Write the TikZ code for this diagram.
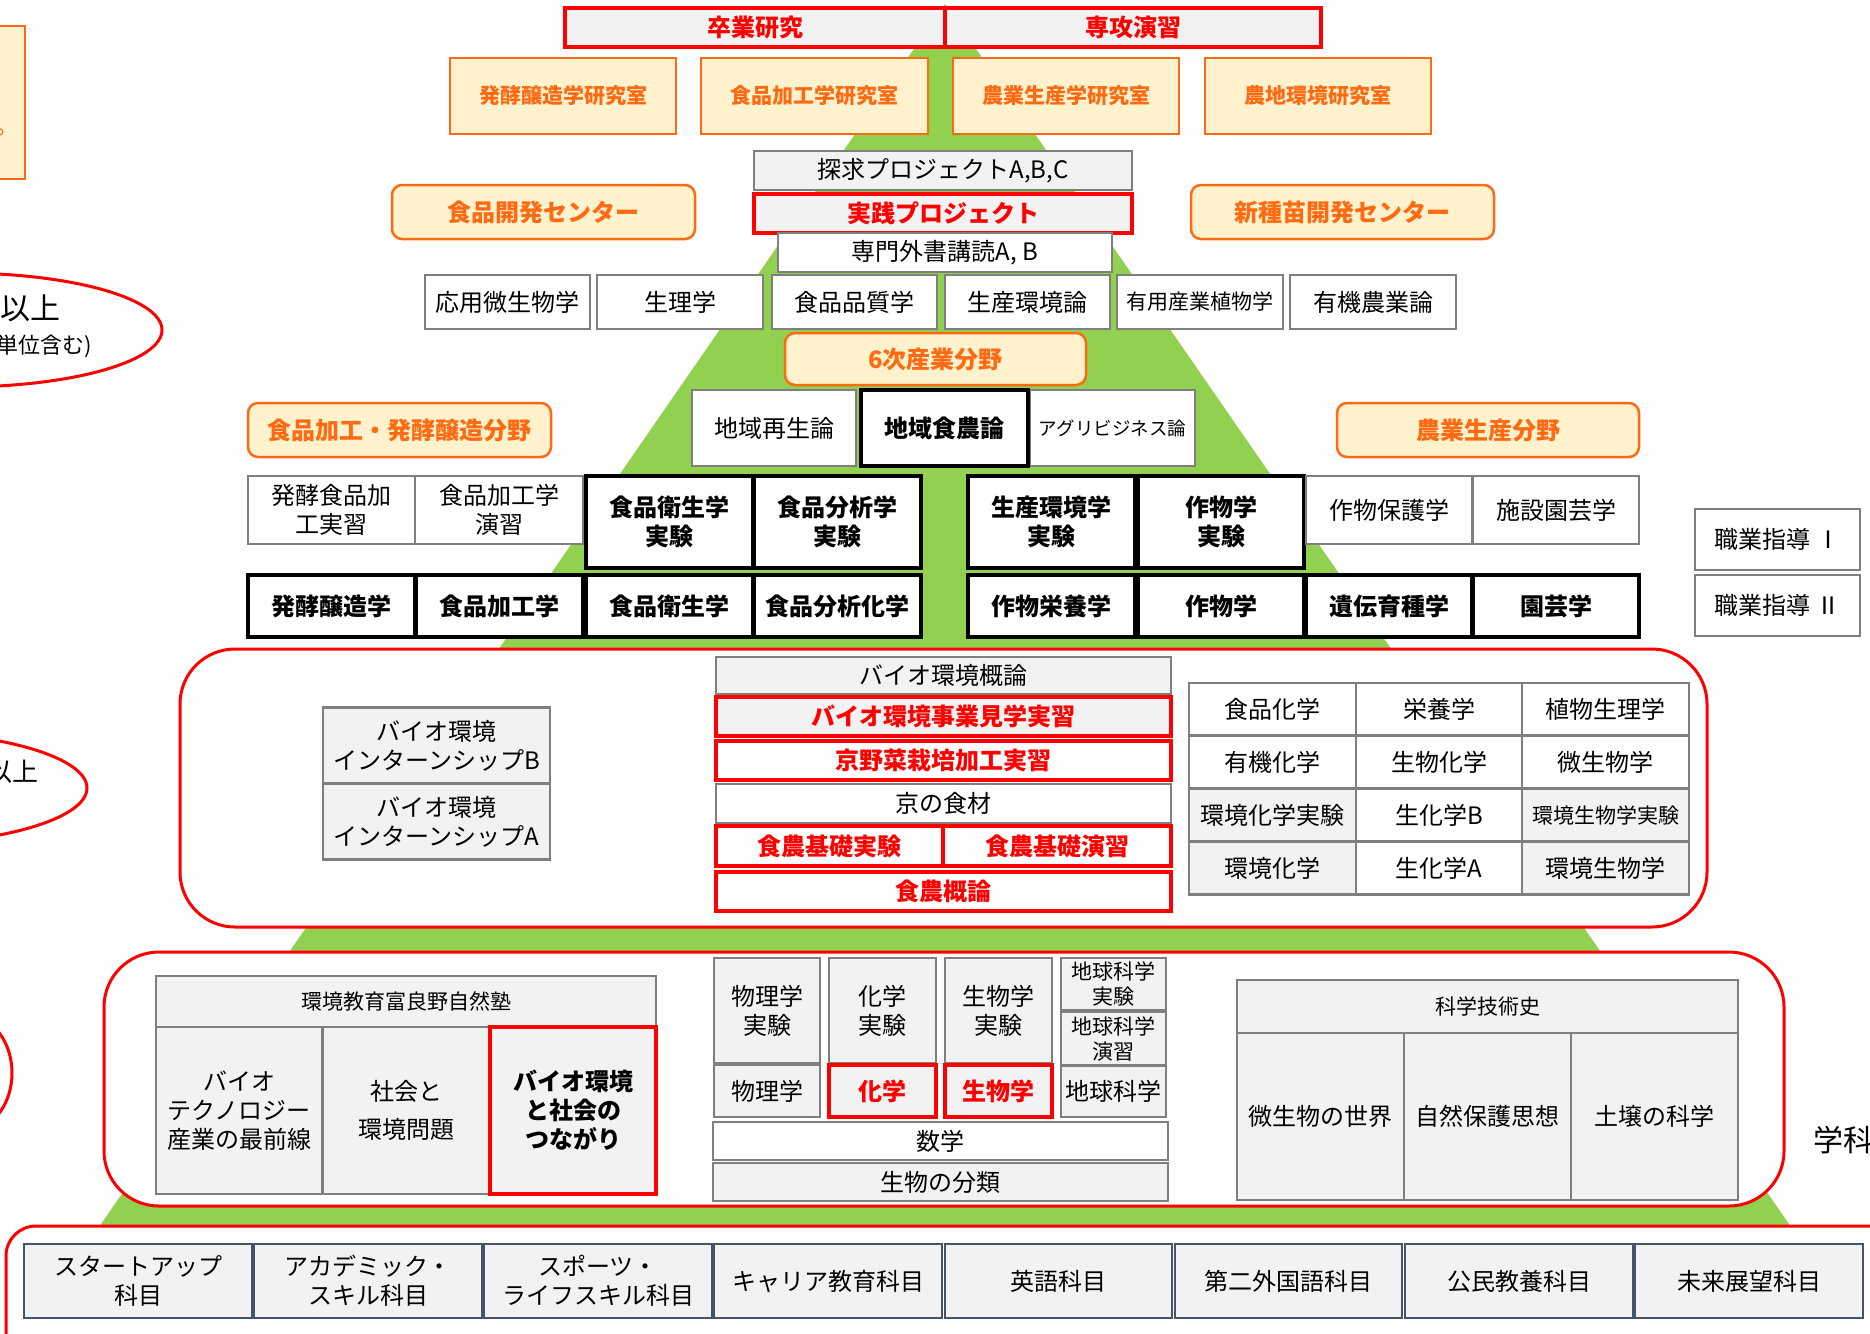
\documentclass[tikz,border=0pt]{standalone}
\usepackage{fontspec}
\setmainfont{Noto Sans CJK JP}
\definecolor{leaf}{HTML}{92D050}
\definecolor{boxgray}{HTML}{7F7F7F}
\definecolor{paper}{HTML}{F2F2F2}
\definecolor{cream}{HTML}{FFF2CC}
\definecolor{rust}{HTML}{FF6A13}
\definecolor{slate}{HTML}{44546A}
\definecolor{hotred}{HTML}{FF0000}

\begin{document}
\begin{tikzpicture}[x=1pt, y=-1pt,
    every node/.style={inner sep=1pt, outer sep=0pt, align=center,
                       font=\fontsize{24}{29}\selectfont},
    sz/.style 2 args={minimum width=#1pt, minimum height=#2pt},
    txsmall/.style={font=\fontsize{21}{25}\selectfont},
    txtiny/.style={font=\fontsize{18.5}{22}\selectfont},
    heavy/.style={font=\fontsize{24}{29}\selectfont\bfseries},
    wbox/.style={draw=boxgray, line width=2.5pt, fill=white},
    gbox/.style={wbox, fill=paper},
    kbox/.style={draw=black, line width=4.5pt, fill=white, heavy},
    rbox/.style={draw=hotred, line width=4pt, fill=white, text=hotred, heavy},
    lab/.style={draw=rust, line width=2.5pt, fill=cream, text=rust,
                font=\fontsize{21}{25}\selectfont\bfseries},
    field/.style={lab, rounded corners=10pt, heavy},
    gen/.style={draw=slate, line width=2.5pt, fill=paper},
    panel/.style={draw=hotred, line width=3pt, fill=white, rounded corners=55pt}
  ]
  \useasboundingbox (0,0) rectangle (1870,1333);
  % Pyramid
  \fill[leaf] (945,4) -- (1800,1240) -- (90,1240) -- cycle;
  % Red panels
  \draw[panel] (180,649) rectangle (1707,927);
  \draw[panel] (104,952) rectangle (1784,1206);
  \draw[panel, rounded corners=30pt] (6,1226) rectangle (1930,1390);
  % Cut-off items at the left and right edges
  \draw[draw=rust, line width=2.5pt, fill=cream] (-60,26) rectangle (25,179);
  \node[text=rust, anchor=base west, inner sep=0pt] (maru) at (-5,134) {。};
  \draw[hotred, line width=3pt, fill=white] (-40,330) ellipse [x radius=202pt, y radius=57pt];
  \node[anchor=east, inner sep=0pt, font=\fontsize{30}{34}\selectfont] (ijo1) at (61,308) {以上};
  \node[anchor=east, inner sep=0pt, font=\fontsize{22}{26}\selectfont] (fukumu) at (92,346) {単位含む)};
  \draw[hotred, line width=3pt, fill=white] (-115,788) ellipse [x radius=202pt, y radius=57pt];
  \node[anchor=east, inner sep=0pt, font=\fontsize{26}{30}\selectfont] (ijo2) at (39,772) {以上};
  \draw[hotred, line width=3pt, fill=white] (-32,1073) ellipse [x radius=44pt, y radius=57pt];
  \node[anchor=west, inner sep=0pt, font=\fontsize{30}{34}\selectfont] (gakka) at (1813,1140) {学科};

  % Graduation research
  \node[rbox, fill=paper, sz={380}{39}] (sotsu) at (755,27.5) {卒業研究};
  \node[rbox, fill=paper, sz={376}{39}] (senko) at (1133,27.5) {専攻演習};
  % Laboratories
  \node[lab, sz={226}{76}] (labHakko) at (563,96) {発酵醸造学研究室};
  \node[lab, sz={227}{76}] (labKako) at (814.5,96) {食品加工学研究室};
  \node[lab, sz={226}{76}] (labNogyo) at (1066,96) {農業生産学研究室};
  \node[lab, sz={226}{76}] (labNochi) at (1318,96) {農地環境研究室};
  % Projects
  \node[gbox, sz={378}{39}] (tankyu) at (943,170.5) {探求プロジェクトA,B,C};
  \node[rbox, fill=paper, sz={378}{39}] (jissen) at (943,213.5) {実践プロジェクト};
  \node[wbox, sz={334}{39}] (senmon) at (945,252.5) {専門外書講読A, B};
  % Centres
  \node[field, sz={303}{54}] (ctrFood) at (543.5,212) {食品開発センター};
  \node[field, sz={303}{54}] (ctrSeed) at (1342.5,212) {新種苗開発センター};
  % Advanced lectures
  \node[wbox, sz={165}{54}] (oyo) at (507.5,302) {応用微生物学};
  \node[wbox, sz={166}{54}] (seiri) at (680,302) {生理学};
  \node[wbox, sz={165}{54}] (hinshitsu) at (854.5,302) {食品品質学};
  \node[wbox, sz={165}{54}] (kankyoron) at (1027.5,302) {生産環境論};
  \node[wbox, txsmall, sz={166}{54}] (yuyo) at (1200,302) {有用産業植物学};
  \node[wbox, sz={166}{54}] (yuki) at (1373,302) {有機農業論};
  % Sixth industry
  \node[field, sz={301}{52}] (roku) at (935.5,359) {6次産業分野};
  \node[wbox, sz={164}{76}] (saisei) at (774,428) {地域再生論};
  \node[wbox, txtiny, sz={165}{76}] (agri) at (1112.5,428) {アグリビジネス論};
  \node[kbox, sz={167}{76}] (shokuno) at (944.5,428) {地域食農論};
  % Fields
  \node[field, sz={303}{54}] (fldFood) at (399.5,430) {食品加工・発酵醸造分野};
  \node[field, sz={302}{54}] (fldCrop) at (1488,430) {農業生産分野};
  % Practicals
  \node[wbox, sz={167}{68}] (hakkoJ) at (331.5,510) {発酵食品加\\工実習};
  \node[wbox, sz={168}{68}] (kakoE) at (499,510) {食品加工学\\演習};
  \node[kbox, sz={167}{92}] (eiseiJ) at (669.5,522) {食品衛生学\\実験};
  \node[kbox, sz={167}{92}] (bunsekiJ) at (837.5,522) {食品分析学\\実験};
  \node[kbox, sz={167}{92}] (seisanJ) at (1051.5,522) {生産環境学\\実験};
  \node[kbox, sz={166}{92}] (sakumotsuJ) at (1221,522) {作物学\\実験};
  \node[wbox, sz={166}{68}] (hogo) at (1389,510) {作物保護学};
  \node[wbox, sz={166}{68}] (shisetsu) at (1556,510) {施設園芸学};
  % Core subjects
  \node[kbox, sz={167}{62}] (hakko) at (331.5,606) {発酵醸造学};
  \node[kbox, sz={167}{62}] (kako) at (499.5,606) {食品加工学};
  \node[kbox, sz={167}{62}] (eisei) at (669.5,606) {食品衛生学};
  \node[kbox, sz={167}{62}] (bunseki) at (837.5,606) {食品分析化学};
  \node[kbox, sz={167}{62}] (eiyo) at (1051.5,606) {作物栄養学};
  \node[kbox, sz={166}{62}] (sakumotsu) at (1221,606) {作物学};
  \node[kbox, sz={166}{62}] (ikushu) at (1389,606) {遺伝育種学};
  \node[kbox, sz={166}{62}] (engei) at (1556,606) {園芸学};
  % Career guidance
  \node[wbox, sz={165}{61}] (shoku1) at (1777.5,539.5) {職業指導 Ⅰ};
  \node[wbox, sz={165}{61}] (shoku2) at (1777.5,605.5) {職業指導 Ⅱ};

  % Panel 1: internships
  \node[gbox, sz={227}{76}] (internB) at (436.5,745.5) {バイオ環境\\インターンシップB};
  \node[gbox, sz={227}{76}] (internA) at (436.5,821.5) {バイオ環境\\インターンシップA};
  % Panel 1: introductory column
  \node[gbox, sz={455}{37}] (bioGairon) at (943.5,675.5) {バイオ環境概論};
  \node[rbox, fill=paper, sz={455}{39}] (kengaku) at (943.5,716.5) {バイオ環境事業見学実習};
  \node[rbox, sz={455}{39}] (kyoyasai) at (943.5,760.5) {京野菜栽培加工実習};
  \node[wbox, sz={455}{39}] (kyoshoku) at (943.5,803.5) {京の食材};
  \node[rbox, sz={227}{40}] (kisoJ) at (829.5,846) {食農基礎実験};
  \node[rbox, sz={228}{40}] (kisoE) at (1057,846) {食農基礎演習};
  \node[rbox, sz={455}{39}] (shokunoGairon) at (943.5,891.5) {食農概論};
  % Panel 1: basic sciences grid
  \node[wbox, sz={167}{53}] (shokuhinKa) at (1272.5,709.5) {食品化学};
  \node[wbox, sz={166}{53}] (eiyogaku) at (1439,709.5) {栄養学};
  \node[wbox, sz={167}{53}] (shokubutsu) at (1605.5,709.5) {植物生理学};
  \node[wbox, sz={167}{53}] (yukiKa) at (1272.5,762) {有機化学};
  \node[wbox, sz={166}{53}] (seibutsuKa) at (1439,762) {生物化学};
  \node[wbox, sz={167}{53}] (biseibutsuGaku) at (1605.5,762) {微生物学};
  \node[gbox, sz={167}{53}] (kankyoKaJ) at (1272.5,815) {環境化学実験};
  \node[wbox, sz={166}{53}] (seikaB) at (1439,815) {生化学B};
  \node[gbox, txsmall, sz={167}{53}] (kankyoSeiJ) at (1605.5,815) {環境生物学実験};
  \node[gbox, sz={167}{53}] (kankyoKa) at (1272.5,868) {環境化学};
  \node[wbox, sz={166}{53}] (seikaA) at (1439,868) {生化学A};
  \node[gbox, sz={167}{53}] (kankyoSei) at (1605.5,868) {環境生物学};

  % Panel 2: Furano school
  \node[gbox, txsmall, sz={500}{51}] (juku) at (406,1001.5) {環境教育富良野自然塾};
  \node[gbox, sz={166}{167}] (biotech) at (239,1110.5) {バイオ\\テクノロジー\\産業の最前線};
  \node[gbox, sz={166}{167}] (shakai) at (406,1110.5) {社会と\\[9pt]環境問題};
  \node[rbox, fill=paper, text=black, sz={166}{167}] (tsunagari) at (573,1110.5) {バイオ環境\\と社会の\\つながり};
  % Panel 2: natural sciences
  \node[gbox, sz={106}{105}] (butsuriJ) at (767,1010.5) {物理学\\実験};
  \node[gbox, sz={107}{105}] (kagakuJ) at (882.5,1010.5) {化学\\実験};
  \node[gbox, sz={107}{105}] (seibutsuJ) at (998.5,1010.5) {生物学\\実験};
  \node[gbox, sz={106}{52}] (butsuri) at (767,1091) {物理学};
  \node[rbox, fill=paper, sz={107}{52}] (kagaku) at (882.5,1091) {化学};
  \node[rbox, fill=paper, sz={107}{52}] (seibutsu) at (998.5,1091) {生物学};
  \node[gbox, txsmall, sz={105}{52}] (chikyuJ) at (1113.5,984) {地球科学\\実験};
  \node[gbox, txsmall, sz={105}{53}] (chikyuE) at (1113.5,1038.5) {地球科学\\演習};
  \node[gbox, sz={105}{51}] (chikyu) at (1113.5,1091.5) {地球科学};
  \node[wbox, sz={455}{38}] (sugaku) at (940.5,1141) {数学};
  \node[gbox, sz={455}{38}] (bunrui) at (940.5,1182) {生物の分類};
  % Panel 2: history of science
  \node[gbox, txsmall, sz={501}{53}] (gijutsu) at (1487.5,1006.5) {科学技術史};
  \node[gbox, sz={167}{167}] (biseibutsu) at (1320.5,1116.5) {微生物の世界};
  \node[gbox, sz={167}{167}] (hogoShiso) at (1487.5,1116.5) {自然保護思想};
  \node[gbox, sz={167}{167}] (dojo) at (1654.5,1116.5) {土壌の科学};

  % General education
  \node[gen, sz={228}{74}] (startup) at (138,1281) {スタートアップ\\科目};
  \node[gen, sz={228}{74}] (academic) at (368,1281) {アカデミック・\\スキル科目};
  \node[gen, sz={228}{74}] (sports) at (598,1281) {スポーツ・\\ライフスキル科目};
  \node[gen, sz={228}{74}] (career) at (828,1281) {キャリア教育科目};
  \node[gen, sz={227}{74}] (eigo) at (1058.5,1281) {英語科目};
  \node[gen, sz={227}{74}] (gaikoku) at (1288.5,1281) {第二外国語科目};
  \node[gen, sz={228}{74}] (komin) at (1519,1281) {公民教養科目};
  \node[gen, sz={228}{74}] (mirai) at (1749,1281) {未来展望科目};
\end{tikzpicture}
\end{document}
